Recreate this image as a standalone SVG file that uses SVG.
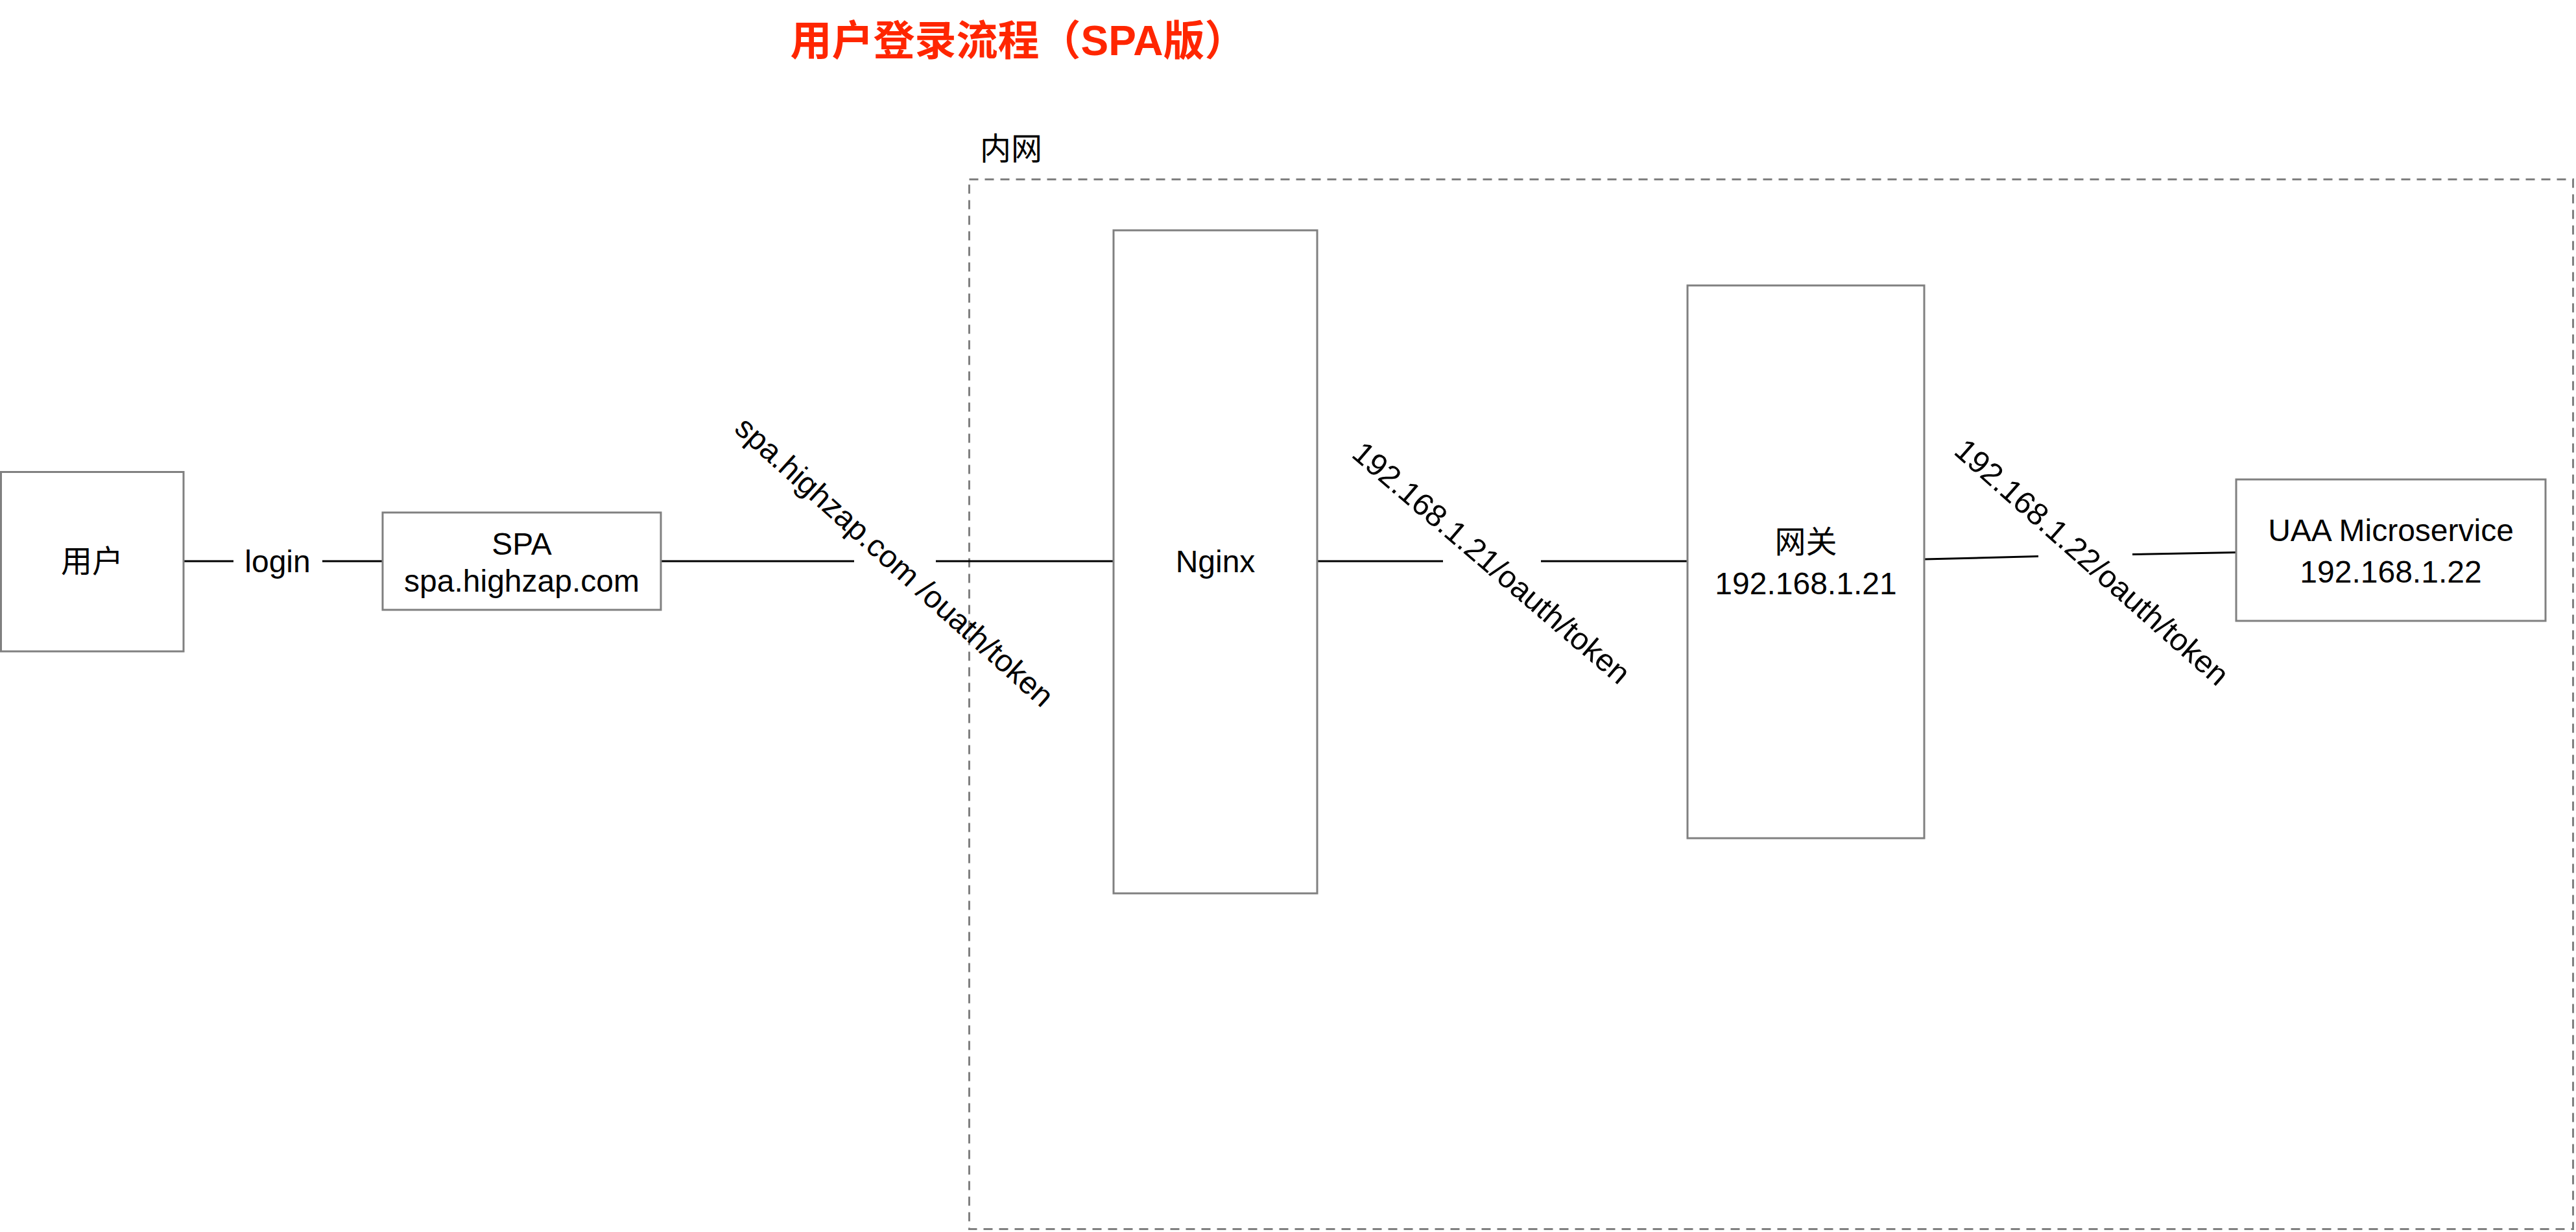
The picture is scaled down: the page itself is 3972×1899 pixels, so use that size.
<svg xmlns="http://www.w3.org/2000/svg" width="3972" height="1899" viewBox="0 0 3972 1899">
<style>
  .box { fill: #ffffff; stroke: #808080; stroke-width: 3; }
  .zone { fill: none; stroke: #808080; stroke-width: 3; stroke-dasharray: 14 10; }
  .edge { fill: none; stroke: #000000; stroke-width: 3; }
  .t { font-family: "Liberation Sans", "Noto Sans CJK SC", sans-serif; font-size: 48px; fill: #000000; }
  .c { text-anchor: middle; }
  .title { font-family: "Liberation Sans", "Noto Sans CJK SC", sans-serif; font-size: 64px; font-weight: bold; fill: #FF2600; text-anchor: middle; }
</style>
<rect width="3972" height="1899" fill="#ffffff"/>
<text class="title" x="1570" y="85">用户登录流程（SPA版）</text>
<g id="intranet">
  <rect class="zone" x="1494.5" y="276.5" width="2473" height="1618"/>
  <text class="t" x="1511" y="246">内网</text>
</g>
<g id="connectors">
  <path class="edge" d="M283 865 H360 M497 865 H590"/>
  <text class="t c" x="428" y="882">login</text>
  <path class="edge" d="M1019 865 H1317 M1443 865 H1717"/>
  <text class="t c" transform="translate(1379 866) rotate(42)" y="16">spa.highzap.com /ouath/token</text>
  <path class="edge" d="M2031 865 H2225 M2376 865 H2602"/>
  <text class="t c" transform="translate(2300 867) rotate(40.5)" y="17">192.168.1.21/oauth/token</text>
  <path class="edge" d="M2967 862 L3143 857.5 M3288 854.5 L3448 851.5"/>
  <text class="t c" transform="translate(3226 866) rotate(41.5)" y="17">192.168.1.22/oauth/token</text>
</g>
<g id="user">
  <rect class="box" x="1.5" y="727.5" width="281.5" height="276.5"/>
  <text class="t c" x="142" y="882">用户</text>
</g>
<g id="spa">
  <rect class="box" x="590" y="790" width="429" height="150"/>
  <text class="t c" x="804.5" y="855">SPA</text>
  <text class="t c" x="804.5" y="912">spa.highzap.com</text>
</g>
<g id="nginx">
  <rect class="box" x="1717" y="355" width="314" height="1022"/>
  <text class="t c" x="1874" y="882">Nginx</text>
</g>
<g id="gateway">
  <rect class="box" x="2602" y="440" width="365" height="852"/>
  <text class="t c" x="2784.5" y="852">网关</text>
  <text class="t c" x="2784.5" y="916">192.168.1.21</text>
</g>
<g id="uaa">
  <rect class="box" x="3448" y="739" width="477" height="218"/>
  <text class="t c" x="3686.5" y="834">UAA Microservice</text>
  <text class="t c" x="3686.5" y="898">192.168.1.22</text>
</g>
</svg>
